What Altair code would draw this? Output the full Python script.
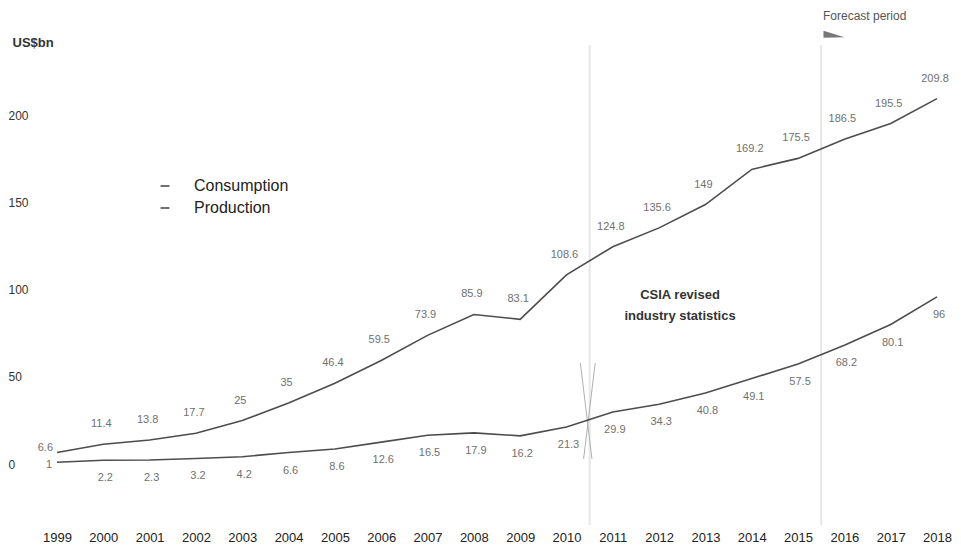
import altair as alt
import pandas as pd

# ---- data ----
years = list(range(1999, 2019))
consumption = [6.6, 11.4, 13.8, 17.7, 25, 35, 46.4, 59.5, 73.9, 85.9, 83.1,
               108.6, 124.8, 135.6, 149, 169.2, 175.5, 186.5, 195.5, 209.8]
production = [1, 2.2, 2.3, 3.2, 4.2, 6.6, 8.6, 12.6, 16.5, 17.9, 16.2,
              21.3, 29.9, 34.3, 40.8, 49.1, 57.5, 68.2, 80.1, 96]
series_names = ["Consumption", "Production"]
y_ticks = [0, 50, 100, 150, 200]
divider_years = [2010.5, 2015.5]
note_lines = ["CSIA revised", "industry statistics"]
forecast_label = "Forecast period"
unit_label = "US$bn"
break_x_start = [2010.3, 2010.62]
break_x_end = [2010.55, 2010.37]
break_y_start = [58, 58]
break_y_end = [3, 3]

FONT = "Liberation Sans"
LINE = "#4d4d4d"
LABEL = "#707070"

rows = []
for s, vals in zip(series_names, [consumption, production]):
    for y, v in zip(years, vals):
        rows.append({"year": y, "series": s, "value": v, "label": f"{v:g}"})
df = pd.DataFrame(rows)

div_df = pd.DataFrame({"x": divider_years})
brk_df = pd.DataFrame({"x": break_x_start, "x2": break_x_end,
                       "y": break_y_start, "y2": break_y_end})

xscale = alt.Scale(domain=[1999, 2018], nice=False, zero=False)
yscale = alt.Scale(domain=[-35, 232], nice=False, zero=False)

x_enc = alt.X("year:Q", scale=xscale,
              axis=alt.Axis(values=years, format="d", title=None, domain=False,
                            ticks=False, tickSize=0, grid=False, labelFontSize=13,
                            labelColor="#222", labelFont=FONT, labelPadding=6,
                            labelFlush=False))
y_enc = alt.Y("value:Q", scale=yscale,
              axis=alt.Axis(values=y_ticks, title=unit_label, titleAngle=0,
                            titleAlign="left", titleBaseline="middle",
                            titleX=-45, titleY=-18, titleFont=FONT,
                            titleFontSize=13, titleFontWeight="bold",
                            titleColor="#333", domain=False, ticks=False,
                            tickSize=0, grid=False, labelAlign="left",
                            labelPadding=49, labelFontSize=12,
                            labelColor="#333", labelFont=FONT))

rules = alt.Chart(div_df).mark_rule(color="#e6e6e6", strokeWidth=2).encode(
    x=alt.X("x:Q", scale=xscale), y=alt.value(-15), y2=alt.value(465))

breaks = alt.Chart(brk_df).mark_rule(color="#b0b0b0", strokeWidth=1).encode(
    x=alt.X("x:Q", scale=xscale), x2="x2:Q",
    y=alt.Y("y:Q", scale=yscale), y2="y2:Q")

lines = alt.Chart(df).mark_line(strokeWidth=1.6).encode(
    x=x_enc, y=y_enc,
    color=alt.Color("series:N",
                    scale=alt.Scale(domain=series_names, range=[LINE, LINE]),
                    legend=alt.Legend(title=None, orient="none", legendX=100,
                                      legendY=118, symbolType="stroke",
                                      symbolSize=80, symbolStrokeWidth=1.6,
                                      labelFont=FONT, labelFontSize=16,
                                      labelColor="#222", labelOffset=21,
                                      rowPadding=6)))

base_lbl = alt.Chart(df)
cons_lbl = base_lbl.transform_filter(
    "datum.series == 'Consumption' && datum.year > 1999").mark_text(
    font=FONT, fontSize=11, color=LABEL, dx=-2, dy=-20).encode(
    x=alt.X("year:Q", scale=xscale), y=alt.Y("value:Q", scale=yscale), text="label:N")
prod_lbl = base_lbl.transform_filter(
    "datum.series == 'Production' && datum.year > 1999").mark_text(
    font=FONT, fontSize=11, color=LABEL, dx=2, dy=18).encode(
    x=alt.X("year:Q", scale=xscale), y=alt.Y("value:Q", scale=yscale), text="label:N")
start_cons = base_lbl.transform_filter(
    "datum.year == 1999 && datum.series == 'Consumption'").mark_text(
    font=FONT, fontSize=11, color=LABEL, align="right", dx=-4, dy=-5).encode(
    x=alt.X("year:Q", scale=xscale), y=alt.Y("value:Q", scale=yscale), text="label:N")
start_prod = base_lbl.transform_filter(
    "datum.year == 1999 && datum.series == 'Production'").mark_text(
    font=FONT, fontSize=11, color=LABEL, align="right", dx=-5, dy=3).encode(
    x=alt.X("year:Q", scale=xscale), y=alt.Y("value:Q", scale=yscale), text="label:N")

note = alt.Chart(pd.DataFrame({"t": [note_lines]})).mark_text(
    font=FONT, fontSize=13, fontWeight="bold", color="#333", align="center",
    baseline="top", lineHeight=21).encode(
    x=alt.value(623), y=alt.value(229), text="t")

forecast = alt.Chart(pd.DataFrame({"t": [forecast_label]})).mark_text(
    font=FONT, fontSize=12, color="#555", align="left", baseline="middle").encode(
    x=alt.value(766), y=alt.value(-44), text="t:N")

wedge = alt.Chart(pd.DataFrame({"t": [forecast_label]})).mark_point(
    shape="M-1,-0.3L1,0.3L-1,0.35Z", filled=True, color="#777", size=440,
    opacity=1).encode(x=alt.value(777), y=alt.value(-26))

chart = alt.layer(rules, breaks, lines, cons_lbl, prod_lbl, start_cons,
                  start_prod, note, forecast, wedge).properties(
    width=880, height=465,
    autosize=alt.AutoSizeParams(type="none"),
    padding={"left": 57, "top": 60, "right": 24, "bottom": 22},
    background="white",
).configure_view(stroke=None)

chart.save("out.html", embed_options={"renderer": "svg", "actions": False})
